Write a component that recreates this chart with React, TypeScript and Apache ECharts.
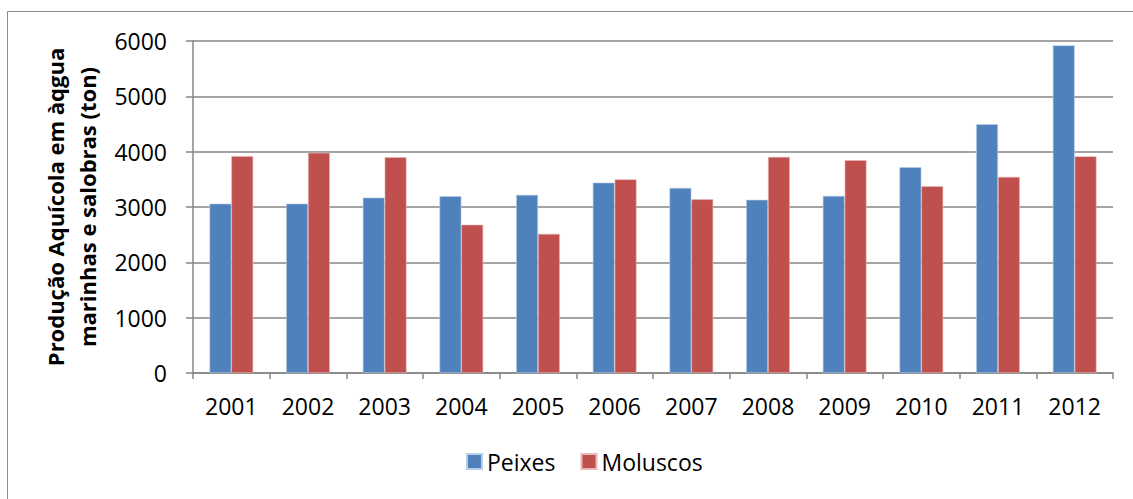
import React, { useEffect, useRef } from "react";
import * as echarts from "echarts";

const years = ["2001", "2002", "2003", "2004", "2005", "2006", "2007", "2008", "2009", "2010", "2011", "2012"];
const peixes = [3060, 3060, 3170, 3195, 3220, 3440, 3345, 3130, 3200, 3720, 4495, 5920];
const moluscos = [3920, 3980, 3900, 2680, 2515, 3500, 3140, 3905, 3845, 3375, 3545, 3915];
const yTicks = { min: 0, max: 6000, interval: 1000 };
const yName = "Produção Aquícola em àqgua\nmarinhas e salobras (ton)";

export default function App() {
  const ref = useRef<HTMLDivElement>(null);
  useEffect(() => {
    const chart = echarts.init(ref.current!, null, { renderer: "svg" });
    const font = "'Open Sans', Calibri, sans-serif";
    chart.setOption({
      animation: false,
      textStyle: { fontFamily: font },
      graphic: [
        {
          type: "rect",
          shape: { x: 7.5, y: 11.5, width: 1200, height: 600 },
          style: { fill: "none", stroke: "#8c8c8c", lineWidth: 1 },
          silent: true,
        },
      ],
      grid: { left: 193, right: 20, top: 41, bottom: 126, containLabel: false },
      legend: {
        bottom: 21,
        left: 461,
        itemWidth: 15,
        itemHeight: 15,
        itemGap: 25,
        icon: "rect",
        textStyle: { fontSize: 23, color: "#000", fontFamily: font },
        data: ["Peixes", "Moluscos"],
      },
      xAxis: {
        type: "category",
        data: years,
        boundaryGap: true,
        axisLine: { lineStyle: { color: "#868686", width: 1.5 } },
        axisTick: { show: true, length: 6, alignWithLabel: false, lineStyle: { color: "#868686", width: 1.5 } },
        axisLabel: { fontSize: 23, color: "#000", margin: 21, fontFamily: font },
      },
      yAxis: {
        type: "value",
        min: yTicks.min,
        max: yTicks.max,
        interval: yTicks.interval,
        name: yName,
        nameLocation: "middle",
        nameGap: 90,
        nameTextStyle: { fontSize: 22, fontWeight: "bold", color: "#000", lineHeight: 32, fontFamily: font },
        axisLine: { show: true, lineStyle: { color: "#868686", width: 1.5 } },
        axisTick: { show: true, length: 7, lineStyle: { color: "#868686", width: 1.5 } },
        axisLabel: {
          fontSize: 23,
          color: "#000",
          margin: 26,
          fontFamily: font,
          formatter: (v: number) => String(v),
        },
        splitLine: { lineStyle: { color: "#868686", width: 1.5 } },
      },
      series: [
        {
          name: "Peixes",
          type: "bar",
          data: peixes,
          barGap: "0%",
          barCategoryGap: "43%",
          itemStyle: { color: "#4F81BD", borderColor: "#b9cde5", borderWidth: 0.6 },
        },
        {
          name: "Moluscos",
          type: "bar",
          data: moluscos,
          itemStyle: { color: "#C0504D", borderColor: "#e6b9b8", borderWidth: 0.6 },
        },
      ],
    });
    return () => chart.dispose();
  }, []);
  return (
    <div
      ref={ref}
      style={{ position: "fixed", left: 0, top: 0, width: 1133, height: 499, background: "#fff" }}
    />
  );
}
